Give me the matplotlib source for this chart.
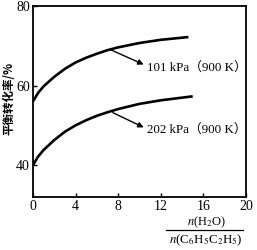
import matplotlib
matplotlib.use("Agg")
import matplotlib.pyplot as plt
from matplotlib.lines import Line2D

# Values
ratio_101 = [0, 0.5, 1, 2, 3, 4, 5, 6, 7, 8, 10, 12, 14.6]
conv_101 = [56, 58.2, 59.8, 62.2, 64.2, 65.8, 67, 68, 68.9, 69.6, 70.7, 71.5, 72.2]
ratio_202 = [0, 0.5, 1, 2, 3, 4, 5, 6, 7, 8, 10, 12, 15]
conv_202 = [40, 42.2, 43.8, 46.3, 48.4, 50, 51.3, 52.4, 53.3, 54.1, 55.4, 56.3, 57.3]
x_ticks = [0, 4, 8, 12, 16, 20]
y_ticks = [40, 60, 80]
label_101 = "101 kPa（900 K）"
label_202 = "202 kPa（900 K）"

serif = ["Liberation Serif", "Noto Sans CJK SC"]
plt.rcParams["font.family"] = serif
plt.rcParams["mathtext.fontset"] = "stix"

fig = plt.figure(figsize=(2.57, 2.5), dpi=100)
ax = fig.add_axes([0.128, 0.212, 0.829, 0.764])

ax.plot(ratio_101, conv_101, color="black", lw=1.9, solid_capstyle="butt")
ax.plot(ratio_202, conv_202, color="black", lw=1.9, solid_capstyle="butt")

ax.set_xlim(0, 20)
ax.set_ylim(32, 80)
ax.set_xticks(x_ticks)
ax.set_yticks(y_ticks)
ax.tick_params(direction="in", length=3, width=1, labelsize=10, pad=2)
for s in ax.spines.values():
    s.set_linewidth(1.3)

arrow = dict(arrowstyle="-|>", color="black", lw=1.0, mutation_scale=8, shrinkA=0, shrinkB=0)
ax.annotate("", xy=(10.4, 65.3), xytext=(7.3, 69.0), arrowprops=arrow)
ax.annotate("", xy=(10.4, 49.5), xytext=(7.5, 53.2), arrowprops=arrow)
ax.text(10.75, 64.5, label_101, fontsize=9.3, va="center", ha="left", family=serif)
ax.text(10.75, 49.0, label_202, fontsize=9.3, va="center", ha="left", family=serif)

fig.text(0.035, 0.605, "平衡转化率/%", rotation=90, fontsize=8.3, va="center", ha="center",
         fontweight="bold", family=["Noto Sans CJK SC", "DejaVu Sans"])

# fraction-style x label
fig.text(0.805, 0.112, r"$n$(H$_2$O)", fontsize=9, ha="center", va="center")
fig.text(0.8, 0.04, r"$n$(C$_6$H$_5$C$_2$H$_5$)", fontsize=9.3, ha="center", va="center")
fig.add_artist(Line2D([0.646, 0.946], [0.08, 0.08], color="black", lw=0.9, transform=fig.transFigure))

fig.savefig("out.png", dpi=100)
